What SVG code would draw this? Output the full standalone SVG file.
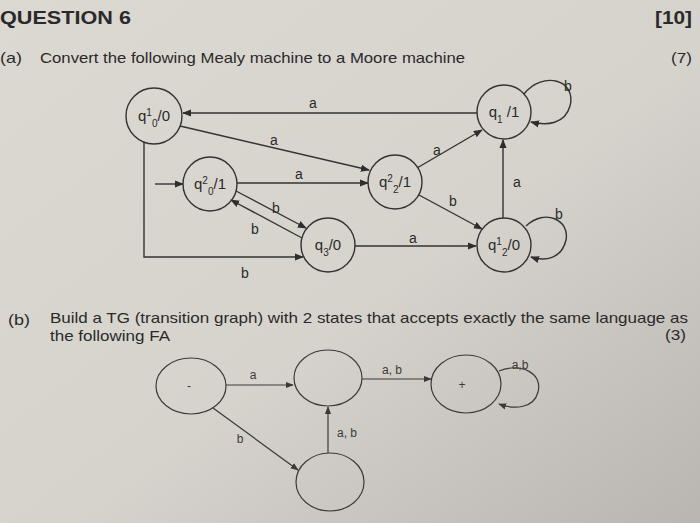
<svg xmlns="http://www.w3.org/2000/svg" width="700" height="523" viewBox="0 0 700 523">
<defs>
<linearGradient id="bg" x1="0" y1="0" x2="1" y2="1">
<stop offset="0" stop-color="#dcd9d3"/>
<stop offset="0.55" stop-color="#d6d3cd"/>
<stop offset="1" stop-color="#b9b6b1"/>
</linearGradient>
<marker id="ar" viewBox="0 0 10 10" refX="9" refY="5" markerWidth="9" markerHeight="9" markerUnits="userSpaceOnUse" orient="auto">
<path d="M0,1 L10,5 L0,9 z" fill="#2e2e2e"/>
</marker>
<marker id="ar2" viewBox="0 0 10 10" refX="9" refY="5" markerWidth="8" markerHeight="8" markerUnits="userSpaceOnUse" orient="auto">
<path d="M0,1 L10,5 L0,9 z" fill="#3a3a3a"/>
</marker>
</defs>
<style>
text{font-family:"Liberation Sans",Arial,sans-serif;fill:#2a2a2a}
.h{font-weight:bold;font-size:18px}
.t{font-size:14.5px}
.n{font-size:15px}
.l{font-size:14px}
.sl{font-size:12px;fill:#3a3a3a}
.st{fill:none;stroke:#333;stroke-width:1.4}
.e{fill:none;stroke:#333;stroke-width:1.4;marker-end:url(#ar)}
.st2{fill:none;stroke:#3a3a3a;stroke-width:1.2}
.e2{fill:none;stroke:#3a3a3a;stroke-width:1.2;marker-end:url(#ar2)}
.sb{font-size:10px;baseline-shift:super}
.sp{font-size:10px;baseline-shift:sub}
</style>
<rect width="700" height="523" fill="url(#bg)"/>

<g id="header">
<text class="h" x="0" y="24" textLength="131" lengthAdjust="spacingAndGlyphs">QUESTION 6</text>
<text class="h" x="655" y="24" textLength="37" lengthAdjust="spacingAndGlyphs">[10]</text>
<text class="t" x="0" y="63" textLength="22" lengthAdjust="spacingAndGlyphs">(a)</text>
<text class="t" x="40" y="63" textLength="425" lengthAdjust="spacingAndGlyphs">Convert the following Mealy machine to a Moore machine</text>
<text class="t" x="671" y="63" textLength="21" lengthAdjust="spacingAndGlyphs">(7)</text>
</g>

<g id="connectors-a">
<line class="e" x1="477" y1="113" x2="183" y2="113"/>
<line class="e" x1="180" y1="126" x2="369" y2="170"/>
<line class="e" x1="155" y1="184" x2="183" y2="184"/>
<line class="e" x1="237" y1="183" x2="368" y2="183"/>
<line class="e" x1="417" y1="168" x2="482" y2="130"/>
<line class="e" x1="419" y1="195" x2="482" y2="229"/>
<line class="e" x1="503" y1="218" x2="503" y2="140"/>
<line class="e" x1="355" y1="246" x2="476" y2="246"/>
<line class="e" x1="236" y1="191" x2="306" y2="228"/>
<line class="e" x1="302" y1="238" x2="231" y2="200"/>
<polyline class="e" points="144,142 144,257 303,257"/>
<path class="e" d="M524,94 C543,70 577,80 570,106 C565,124 547,126 531,122"/>
<path class="e" d="M526,226 C545,208 570,220 566,240 C562,258 546,262 531,257"/>
<text class="l" x="313" y="108" text-anchor="middle">a</text>
<text class="l" x="274" y="145" text-anchor="middle">a</text>
<text class="l" x="299" y="179" text-anchor="middle">a</text>
<text class="l" x="437" y="155" text-anchor="middle">a</text>
<text class="l" x="453" y="206" text-anchor="middle">b</text>
<text class="l" x="517" y="187" text-anchor="middle">a</text>
<text class="l" x="413" y="243" text-anchor="middle">a</text>
<text class="l" x="276" y="213" text-anchor="middle">b</text>
<text class="l" x="255" y="234" text-anchor="middle">b</text>
<text class="l" x="245" y="278" text-anchor="middle">b</text>
<text class="l" x="568" y="91" text-anchor="middle">b</text>
<text class="l" x="559" y="219" text-anchor="middle">b</text>
</g>

<g id="q10">
<circle class="st" cx="154" cy="116" r="28"/>
<text class="n" x="154" y="121" text-anchor="middle">q<tspan class="sb">1</tspan><tspan class="sp">0</tspan>/0</text>
</g>
<g id="q1">
<circle class="st" cx="504" cy="112" r="27"/>
<text class="n" x="504" y="117" text-anchor="middle">q<tspan class="sp">1</tspan> /1</text>
</g>
<g id="q20">
<circle class="st" cx="210" cy="184" r="27"/>
<text class="n" x="210" y="189" text-anchor="middle">q<tspan class="sb">2</tspan><tspan class="sp">0</tspan>/1</text>
</g>
<g id="q22">
<circle class="st" cx="395" cy="182" r="27"/>
<text class="n" x="395" y="187" text-anchor="middle">q<tspan class="sb">2</tspan><tspan class="sp">2</tspan>/1</text>
</g>
<g id="q3">
<circle class="st" cx="328" cy="245" r="27"/>
<text class="n" x="328" y="250" text-anchor="middle">q<tspan class="sp">3</tspan>/0</text>
</g>
<g id="q12">
<circle class="st" cx="504" cy="245" r="27"/>
<text class="n" x="504" y="250" text-anchor="middle">q<tspan class="sb">1</tspan><tspan class="sp">2</tspan>/0</text>
</g>

<g id="part-b-text">
<text class="t" x="8" y="325" textLength="22" lengthAdjust="spacingAndGlyphs">(b)</text>
<text class="t" x="50" y="323" textLength="638" lengthAdjust="spacingAndGlyphs">Build a TG (transition graph) with 2 states that accepts exactly the same language as</text>
<text class="t" x="50" y="341" textLength="120" lengthAdjust="spacingAndGlyphs">the following FA</text>
<text class="t" x="665" y="340" textLength="21" lengthAdjust="spacingAndGlyphs">(3)</text>
</g>

<g id="connectors-b">
<line class="e2" x1="226" y1="385" x2="293" y2="385"/>
<line class="e2" x1="362" y1="379" x2="431" y2="379"/>
<line class="e2" x1="213" y1="408" x2="298" y2="470"/>
<line class="e2" x1="328" y1="453" x2="328" y2="407"/>
<path class="e2" d="M499,371 C522,362 543,374 538,392 C534,408 515,410 499,404"/>
<text class="sl" x="253" y="379" text-anchor="middle">a</text>
<text class="sl" x="392" y="374" text-anchor="middle">a, b</text>
<text class="sl" x="520" y="369" text-anchor="middle">a,b</text>
<text class="sl" x="240" y="443" text-anchor="middle">b</text>
<text class="sl" x="347" y="437" text-anchor="middle">a, b</text>
</g>

<g id="s-minus">
<ellipse class="st2" cx="191" cy="386" rx="35" ry="28"/>
<text class="sl" x="189" y="390" text-anchor="middle">-</text>
</g>
<g id="s-mid">
<ellipse class="st2" cx="328" cy="378" rx="34" ry="28"/>
</g>
<g id="s-plus">
<ellipse class="st2" cx="466" cy="384" rx="35" ry="29"/>
<text class="sl" x="462" y="389" text-anchor="middle">+</text>
</g>
<g id="s-bottom">
<ellipse class="st2" cx="330" cy="482" rx="34" ry="29"/>
</g>
</svg>
